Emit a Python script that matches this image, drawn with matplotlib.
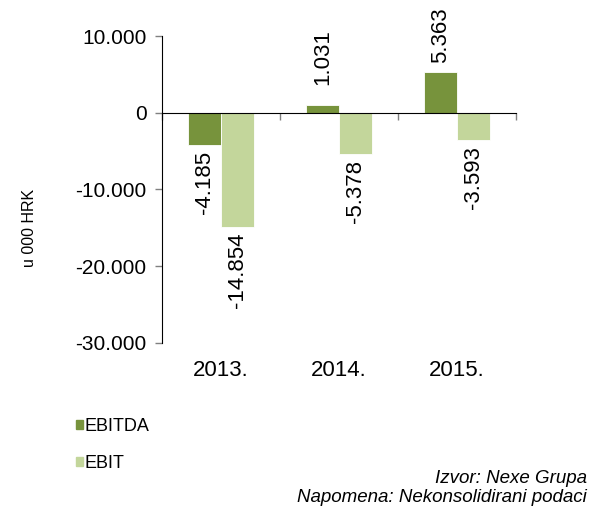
import matplotlib.pyplot as plt
from matplotlib.patches import Patch
from matplotlib.transforms import blended_transform_factory

years = ["2013.", "2014.", "2015."]
ebitda = [-4185, 1031, 5363]
ebit = [-14854, -5378, -3593]

c_ebitda = "#77933C"
c_ebit = "#C3D69B"


def fmt(v):
    return f"{v:,}".replace(",", ".")


plt.rcParams['font.family'] = ['Liberation Sans', 'DejaVu Sans']
fig = plt.figure(figsize=(5.9, 5.08), dpi=100)
ax = fig.add_axes([0.2746, 0.325, 0.6, 0.604])

x = list(range(len(years)))
w = 0.28
b1 = ax.bar([i - w / 2 for i in x], ebitda, w, color=c_ebitda, edgecolor="white", linewidth=0.6)
b2 = ax.bar([i + w / 2 for i in x], ebit, w, color=c_ebit, edgecolor="white", linewidth=0.6)

for bars, vals in ((b1, ebitda), (b2, ebit)):
    for bar, v in zip(bars, vals):
        cx = bar.get_x() + bar.get_width() / 2
        if v > 0:
            # taller bar gets its label tucked closer, like the source
            off = 6 if v > 3000 else 14
        else:
            off = -4
        ax.annotate(fmt(v), (cx, v), xytext=(0, off), textcoords="offset points",
                    rotation=90, ha="center", va="bottom" if v > 0 else "top",
                    fontsize=16, annotation_clip=False)

ax.set_xlim(-0.5, len(years) - 0.5)
ax.set_ylim(-30000, 10000)
ticks = [10000, 0, -10000, -20000, -30000]
ax.set_yticks(ticks)
ax.set_yticklabels([fmt(t) for t in ticks], fontsize=15)
ax.tick_params(axis="y", direction="out", length=5, width=1, color="#808080", pad=6)

ax.spines["bottom"].set_position(("data", 0))
ax.spines["top"].set_visible(False)
ax.spines["right"].set_visible(False)
ax.set_xticks([i - 0.5 for i in range(len(years) + 1)])
ax.set_xticklabels([])
ax.tick_params(axis="x", direction="out", length=5, width=1, colors="#808080")

tr = blended_transform_factory(ax.transData, ax.transAxes)
for i, yr in enumerate(years):
    ax.text(i, -0.055, yr, transform=tr, ha="center", va="top", fontsize=16)

fig.text(30 / 590, 1 - 228 / 508, "u 000 HRK", rotation=90, ha="center", va="center", fontsize=11.5)

handles = [Patch(color=c_ebitda, label="EBITDA"), Patch(color=c_ebit, label="EBIT")]
fig.legend(handles=handles, loc="upper left", bbox_to_anchor=(0.107, 0.203),
           frameon=False, fontsize=13, handlelength=0.4, handleheight=0.4,
           handletextpad=0.1, labelspacing=1.15, borderpad=0.2)

fig.text(0.995, 0.059, "Izvor: Nexe Grupa", ha="right", va="center",
         style="italic", fontsize=13.5)
fig.text(0.995, 0.021, "Napomena: Nekonsolidirani podaci", ha="right", va="center",
         style="italic", fontsize=13.5)

fig.savefig("out.png", dpi=100)
